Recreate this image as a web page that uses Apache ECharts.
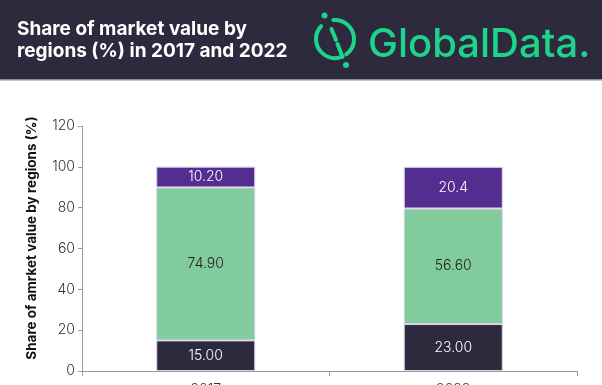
<!DOCTYPE html>
<html>
<head>
<meta charset="utf-8">
<script src="https://cdn.jsdelivr.net/npm/echarts@6/dist/echarts.min.js"></script>
<style>
html,body{margin:0;padding:0;background:#fff;}
#chart{width:602px;height:385px;}
</style>
</head>
<body>
<div id="chart"></div>
<script>
var categories = ['2017', '2022'];
var seriesNames = ['Region A', 'Region B', 'Region C'];
var darkValues = [15.00, 23.00];
var greenValues = [74.90, 56.60];
var purpleValues = [10.20, 20.4];
var darkLabels = ['15.00', '23.00'];
var greenLabels = ['74.90', '56.60'];
var purpleLabels = ['10.20', '20.4'];
var yTicks = [0, 20, 40, 60, 80, 100, 120];

var FONT = 'Inter, "Noto Sans", sans-serif';
var chart = echarts.init(document.getElementById('chart'), null, {renderer: 'canvas'});

function mkSeries(name, vals, labels, color, labelColor) {
  return {
    name: name,
    type: 'bar',
    stack: 'total',
    barWidth: '40%',
    data: vals,
    itemStyle: {color: color, borderColor: '#d6d2e6', borderWidth: 1},
    label: {
      show: true,
      position: 'inside',
      color: labelColor,
      fontFamily: FONT,
      fontSize: 14,
      fontWeight: 300,
      formatter: function (p) { return labels[p.dataIndex]; }
    }
  };
}

var green = '#1dd48b';
var cx = 335, cy = 39, r = 19;
function deg(d) { return d * Math.PI / 180; }

var option = {
  animation: false,
  grid: {left: 82, right: 25, top: 126, bottom: 14, containLabel: false, outerBoundsMode: 'none'},
  xAxis: {
    type: 'category',
    data: categories,
    axisLine: {show: true, lineStyle: {color: '#9a9a9a', width: 1}},
    axisTick: {show: true, length: 5, lineStyle: {color: '#9a9a9a'}},
    axisLabel: {color: '#333', fontFamily: FONT, fontSize: 14, fontWeight: 300, margin: 12}
  },
  yAxis: {
    type: 'value',
    min: yTicks[0],
    max: yTicks[yTicks.length - 1],
    interval: yTicks[1] - yTicks[0],
    splitLine: {show: false},
    axisLine: {show: true, lineStyle: {color: '#9a9a9a', width: 1}},
    axisTick: {show: true, length: 4, lineStyle: {color: '#9a9a9a'}},
    axisLabel: {color: '#333', fontFamily: FONT, fontSize: 14, fontWeight: 300, margin: 7}
  },
  series: [
    mkSeries(seriesNames[0], darkValues, darkLabels, '#2e2a3e', '#ffffff'),
    mkSeries(seriesNames[1], greenValues, greenLabels, '#82cb9c', '#222222'),
    mkSeries(seriesNames[2], purpleValues, purpleLabels, '#532e90', '#ffffff')
  ],
  graphic: [
    {type: 'rect', left: 0, top: 0, z: -1, shape: {x: 0, y: 0, width: 602, height: 79}, style: {fill: '#2e2a3e'}},
    {type: 'rect', left: 0, top: 79, shape: {x: 0, y: 0, width: 602, height: 1.5}, style: {fill: '#8e8b99'}},
    {type: 'text', x: 17, y: 20, style: {text: 'Share of market value by', fill: '#ffffff', font: 'bold 19px ' + FONT, align: 'left', verticalAlign: 'top'}},
    {type: 'text', x: 17, y: 42, style: {text: 'regions (%) in 2017 and 2022', fill: '#ffffff', font: 'bold 19px ' + FONT, align: 'left', verticalAlign: 'top'}},
    {type: 'text', x: 368, y: 25, style: {text: 'GlobalData.', fill: green, font: '500 40px ' + FONT, align: 'left', verticalAlign: 'top'}},
    {type: 'arc', shape: {cx: cx, cy: cy, r: r, startAngle: deg(-137), endAngle: deg(72), clockwise: false}, style: {stroke: green, lineWidth: 4, fill: null, lineCap: 'round'}},
    {type: 'arc', shape: {cx: cx, cy: cy, r: r, startAngle: deg(-95), endAngle: deg(54), clockwise: true}, style: {stroke: green, lineWidth: 4, fill: null, lineCap: 'round'}},
    {type: 'line', shape: {x1: 331.5, y1: 29, x2: 336, y2: 40}, style: {stroke: green, lineWidth: 4, lineCap: 'round'}},
    {type: 'line', shape: {x1: 337.5, y1: 44, x2: 342.5, y2: 57}, style: {stroke: green, lineWidth: 4, lineCap: 'round'}},
    {type: 'circle', shape: {cx: 324.5, cy: 15.5, r: 3}, style: {fill: green}},
    {type: 'circle', shape: {cx: 346, cy: 65, r: 3}, style: {fill: green}},
    {type: 'text', x: 32, y: 238, rotation: Math.PI / 2, style: {text: 'Share of amrket value by regions (%)', fill: '#111', font: 'bold 13.5px ' + FONT, align: 'center', verticalAlign: 'middle'}}
  ]
};
chart.setOption(option);
</script>
</body>
</html>
